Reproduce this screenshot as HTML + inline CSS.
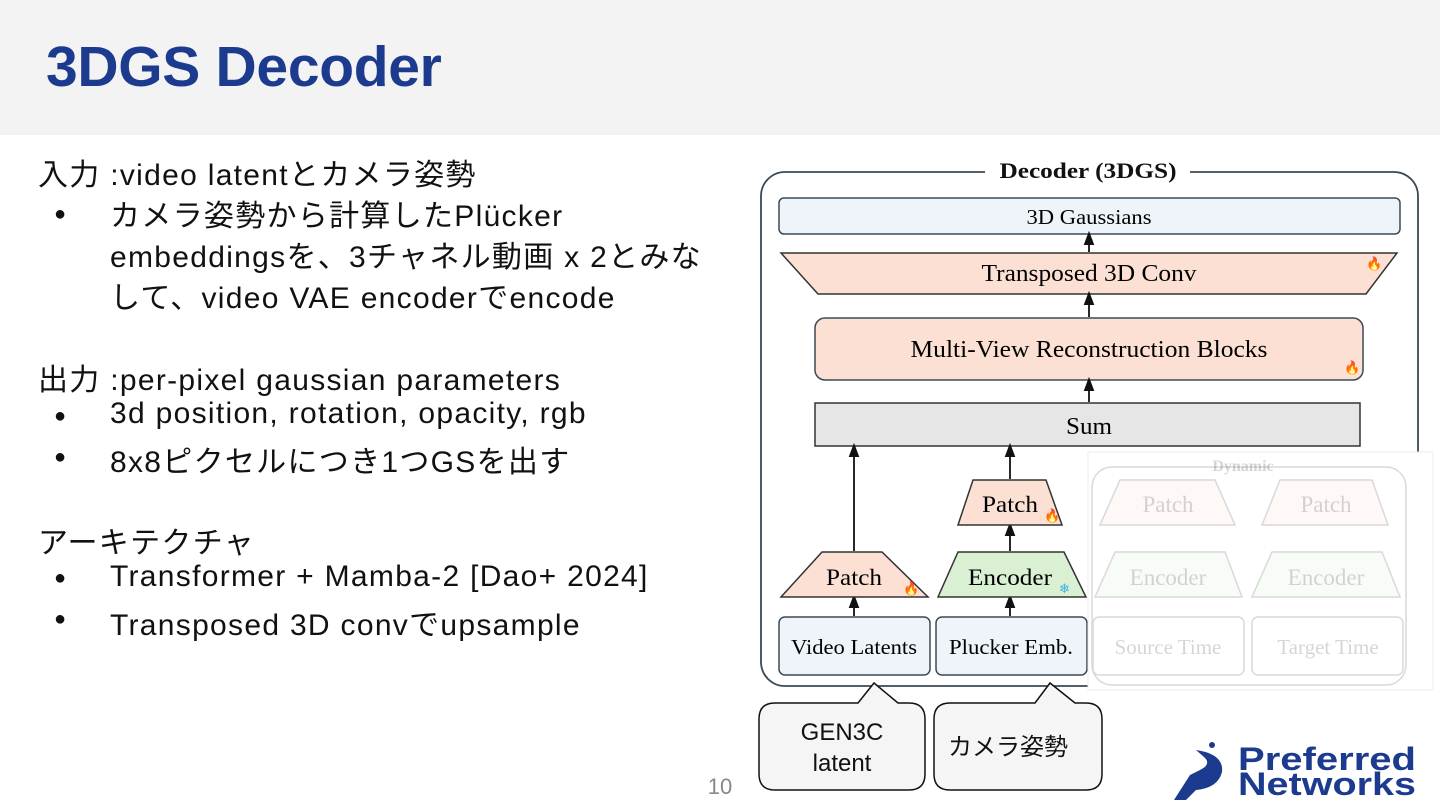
<!DOCTYPE html>
<html><head><meta charset="utf-8"><style>
body{margin:0;width:1440px;height:810px;background:#fff;position:relative;overflow:hidden;font-family:"Liberation Sans","Noto Sans CJK JP",sans-serif;}
.hdr{position:absolute;left:0;top:0;width:1440px;height:135px;background:#f3f3f3;}
.title{position:absolute;left:46px;top:34px;font-size:57px;font-weight:bold;color:#1c3b8f;letter-spacing:-0.3px;}
.t{position:absolute;font-size:30px;color:#111;white-space:nowrap;letter-spacing:1.3px;}
.b{position:absolute;font-size:20px;color:#111;}
</style></head><body>
<div class="hdr"></div>
<div class="title">3DGS Decoder</div>

<div class="t" style="left:38px;top:150px">入力 :video latentとカメラ姿勢</div>
<div class="b" style="left:54px;top:203px">●</div>
<div class="t" style="left:110px;top:191px">カメラ姿勢から計算したPlücker</div>
<div class="t" style="left:110px;top:232px">embeddingsを、3チャネル動画 x 2とみな</div>
<div class="t" style="left:110px;top:273px">して、video VAE encoderでencode</div>

<div class="t" style="left:38px;top:355px">出力 :per-pixel gaussian parameters</div>
<div class="b" style="left:54px;top:405px">●</div>
<div class="t" style="left:110px;top:397px">3d position, rotation, opacity, rgb</div>
<div class="b" style="left:54px;top:446px">●</div>
<div class="t" style="left:110px;top:437px">8x8ピクセルにつき1つGSを出す</div>

<div class="t" style="left:38px;top:518px">アーキテクチャ</div>
<div class="b" style="left:54px;top:567px">●</div>
<div class="t" style="left:110px;top:560px">Transformer + Mamba-2 [Dao+ 2024]</div>
<div class="b" style="left:54px;top:608px">●</div>
<div class="t" style="left:110px;top:600px">Transposed 3D convでupsample</div>

<svg width="1440" height="810" style="position:absolute;left:0;top:0" font-family="Liberation Serif, serif">
<defs><marker id="a" markerWidth="8" markerHeight="8" refX="4" refY="4" orient="auto"><path d="M0,1 L8,4 L0,7 z" fill="#111"/></marker></defs>
<rect x="761" y="172" width="657" height="514" rx="24" fill="none" stroke="#3b4a55" stroke-width="1.8"/>
<rect x="985" y="160" width="205" height="24" fill="#fff"/>
<text x="1088" y="178" font-size="22" font-weight="bold" text-anchor="middle" fill="#111" textLength="177" lengthAdjust="spacingAndGlyphs">Decoder (3DGS)</text>
<rect x="779" y="198" width="621" height="36" rx="5" fill="#eef4fa" stroke="#3b4a55" stroke-width="1.5"/>
<text x="1089" y="224" font-size="21" text-anchor="middle" textLength="125" lengthAdjust="spacingAndGlyphs">3D Gaussians</text>
<path d="M781,253 L1397,253 L1366,294 L818,294 Z" fill="#fbe0d3" stroke="#333" stroke-width="1.5"/>
<text x="1089" y="281" font-size="24" text-anchor="middle" textLength="215" lengthAdjust="spacingAndGlyphs">Transposed 3D Conv</text>
<rect x="815" y="318" width="548" height="62" rx="10" fill="#fbe0d3" stroke="#3b4a55" stroke-width="1.5"/>
<text x="1089" y="357" font-size="24" text-anchor="middle" textLength="357" lengthAdjust="spacingAndGlyphs">Multi-View Reconstruction Blocks</text>
<rect x="815" y="403" width="545" height="43" fill="#e6e6e6" stroke="#333" stroke-width="1.5"/>
<text x="1089" y="434" font-size="24" text-anchor="middle" textLength="46" lengthAdjust="spacingAndGlyphs">Sum</text>
<g stroke="#111" stroke-width="1.8" marker-end="url(#a)">
<line x1="1089" y1="252" x2="1089" y2="238"/>
<line x1="1089" y1="317" x2="1089" y2="298"/>
<line x1="1089" y1="402" x2="1089" y2="384"/>
<line x1="854" y1="551" x2="854" y2="450"/>
<line x1="1010" y1="479" x2="1010" y2="450"/>
<line x1="1010" y1="551" x2="1010" y2="529"/>
<line x1="854" y1="616" x2="854" y2="601"/>
<line x1="1010" y1="616" x2="1010" y2="601"/>
</g>
<path d="M822,552 L882,552 L928,597 L781,597 Z" fill="#fbe0d3" stroke="#333" stroke-width="1.5"/>
<text x="854" y="585" font-size="23" text-anchor="middle" textLength="56" lengthAdjust="spacingAndGlyphs">Patch</text>
<path d="M958,552 L1064,552 L1086,597 L938,597 Z" fill="#d9f0d3" stroke="#333" stroke-width="1.5"/>
<text x="1010" y="585" font-size="23" text-anchor="middle" textLength="84" lengthAdjust="spacingAndGlyphs">Encoder</text>
<path d="M973,480 L1046,480 L1062,525 L958,525 Z" fill="#fbe0d3" stroke="#333" stroke-width="1.5"/>
<text x="1010" y="512" font-size="23" text-anchor="middle" textLength="56" lengthAdjust="spacingAndGlyphs">Patch</text>
<rect x="779" y="617" width="151" height="58" rx="6" fill="#eef4fa" stroke="#3b4a55" stroke-width="1.5"/>
<text x="854" y="654" font-size="21" text-anchor="middle" textLength="126" lengthAdjust="spacingAndGlyphs">Video Latents</text>
<rect x="936" y="617" width="151" height="58" rx="6" fill="#eef4fa" stroke="#3b4a55" stroke-width="1.5"/>
<text x="1011" y="654" font-size="21" text-anchor="middle" textLength="124" lengthAdjust="spacingAndGlyphs">Plucker Emb.</text>
<g font-size="13" fill="#e33"><text x="1366" y="268">🔥</text><text x="1344" y="372">🔥</text><text x="903" y="593">🔥</text><text x="1044" y="520">🔥</text></g>
<text x="1059" y="593" font-size="13" fill="#3ab0e0">❄</text>
<rect x="1088" y="452" width="345" height="238" fill="#fff" stroke="#eee"/>
<g opacity="0.18" stroke="#333" stroke-width="1.5">
<rect x="1092" y="467" width="314" height="218" rx="20" fill="none"/>
<path d="M1120,480 L1215,480 L1235,525 L1100,525 Z" fill="#fbe0d3"/>
<path d="M1280,480 L1372,480 L1388,525 L1262,525 Z" fill="#fbe0d3"/>
<path d="M1115,552 L1225,552 L1242,597 L1095,597 Z" fill="#d9f0d3"/>
<path d="M1272,552 L1382,552 L1400,597 L1252,597 Z" fill="#d9f0d3"/>
<rect x="1093" y="617" width="151" height="58" rx="6" fill="#fff"/>
<rect x="1252" y="617" width="151" height="58" rx="6" fill="#fff"/>
</g>
<g opacity="0.2" font-size="23" text-anchor="middle" fill="#333">
<text x="1243" y="471" font-size="16" font-weight="bold">Dynamic</text>
<text x="1168" y="512">Patch</text><text x="1326" y="512">Patch</text>
<text x="1168" y="585">Encoder</text><text x="1326" y="585">Encoder</text>
<text x="1168" y="654" font-size="21">Source Time</text><text x="1328" y="654" font-size="21">Target Time</text>
</g>
<g fill="#f5f5f5" stroke="#111" stroke-width="1.5">
<path d="M777,703 L858,703 L874,683 L898,703 L909,703 Q925,703 925,719 L925,774 Q925,790 909,790 L775,790 Q759,790 759,774 L759,719 Q759,703 775,703 Z"/>
<path d="M950,703 L1035,703 L1050,683 L1075,703 L1086,703 Q1102,703 1102,719 L1102,774 Q1102,790 1086,790 L950,790 Q934,790 934,774 L934,719 Q934,703 950,703 Z"/>
</g>
<g font-family="Liberation Sans, Noto Sans CJK JP, sans-serif" font-size="24" fill="#111" text-anchor="middle">
<text x="842" y="740">GEN3C</text><text x="842" y="771">latent</text>
<text x="1008" y="755">カメラ姿勢</text>
</g>
<text x="720" y="794" font-family="Liberation Sans, sans-serif" font-size="22" fill="#888" text-anchor="middle">10</text>
<path d="M1196,750 Q1224,754 1222,772 Q1218,788 1196,790 L1186,800 L1174,800 L1190,775 L1200,770 Q1212,764 1204,757 Z" fill="#1c3b8f"/>
<circle cx="1212" cy="745" r="3" fill="#1c3b8f"/>
<g font-family="Liberation Sans, sans-serif" font-weight="bold" fill="#1c3b8f" font-size="32">
<text x="1238" y="770" textLength="178" lengthAdjust="spacingAndGlyphs">Preferred</text><text x="1238" y="795" textLength="178" lengthAdjust="spacingAndGlyphs">Networks</text>
</g>
</svg>
</body></html>
